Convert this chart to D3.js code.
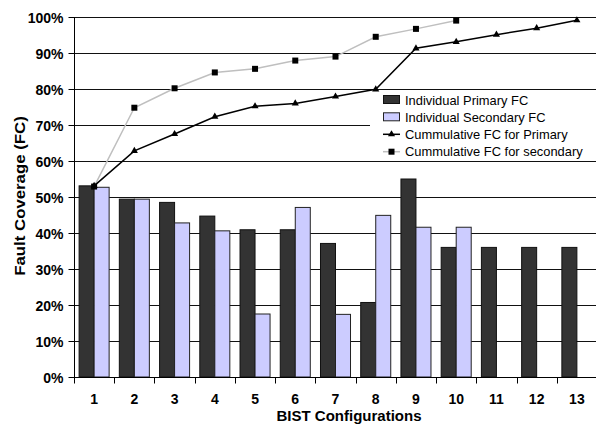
<!DOCTYPE html>
<html><head><meta charset="utf-8">
<script src="https://cdn.jsdelivr.net/npm/d3@7"></script>
<style>body{margin:0;background:#fff}svg{display:block;font-family:"Liberation Sans",Arial,sans-serif}</style>
</head><body><svg id="c" width="596" height="426"></svg>
<script>
const categories = ["1","2","3","4","5","6","7","8","9","10","11","12","13"];
const primaryFC = [53.1,49.4,48.5,44.7,40.9,40.9,37.1,20.7,55.0,36.0,36.0,36.0,36.0];
const secondaryFC = [52.7,49.4,42.8,40.6,17.5,47.1,17.4,44.9,41.6,41.6,null,null,null];
const cumPrimary = [53.1,62.8,67.5,72.3,75.2,76.0,77.9,79.9,91.3,93.1,95.1,96.9,99.1];
const cumSecondary = [52.9,74.8,80.2,84.6,85.6,87.9,89.0,94.5,96.7,99.0];
const yTicks = [0,10,20,30,40,50,60,70,80,90,100];
const legendLabels = ["Individual Primary FC","Individual Secondary FC","Cummulative FC for Primary","Cummulative FC for secondary"];

const svg = d3.select("#c");
const L = 74, R = 597, T = 17, B = 377;
const x0 = d3.scaleBand().domain(categories).range([L, R]).padding(0);
const x1 = d3.scaleBand().domain(["p","s"]).range([0, x0.bandwidth()]).paddingInner(0).paddingOuter(0.34);
const y = d3.scaleLinear().domain([0,100]).range([B, T]);

// gridlines
svg.append("g").selectAll("line").data(yTicks.filter(d=>d>0)).join("line")
  .attr("x1", L).attr("x2", R).attr("y1", d=>Math.round(y(d))+0.5).attr("y2", d=>Math.round(y(d))+0.5)
  .attr("stroke", "#111").attr("stroke-width", 1);

// bars
const g = svg.append("g");
categories.forEach((c,i)=>{
  g.append("rect").attr("x", x0(c)+x1("p")).attr("y", y(primaryFC[i]))
    .attr("width", x1.bandwidth()).attr("height", B - y(primaryFC[i]))
    .attr("fill", "#333333").attr("stroke", "#111").attr("stroke-width", 1);
  if (secondaryFC[i] != null) {
    g.append("rect").attr("x", x0(c)+x1("s")).attr("y", y(secondaryFC[i]))
      .attr("width", x1.bandwidth()).attr("height", B - y(secondaryFC[i]))
      .attr("fill", "#ccccff").attr("stroke", "#222").attr("stroke-width", 1);
  }
});

// axes
const yAxis = d3.axisLeft(y).tickValues(yTicks).tickFormat(d=>d+"%").tickSize(6).tickPadding(5);
const ya = svg.append("g").attr("transform", `translate(${L+0.5},0)`).call(yAxis);
ya.select(".domain").attr("stroke", "#000").attr("d", `M0,${T}V${B}`);
ya.selectAll(".tick line").attr("stroke", "#000");
ya.selectAll(".tick text").attr("font-size", 14).attr("font-weight", "bold").attr("fill", "#000")
  .attr("font-family", "'Liberation Sans',Arial,sans-serif").attr("dy","0.42em");

const xa = svg.append("g").attr("transform", `translate(0,${B+0.5})`);
xa.append("line").attr("x1", L).attr("x2", R).attr("stroke", "#000");
const bounds = categories.map(c=>x0(c)).concat([R]);
xa.selectAll("line.tk").data(bounds).join("line").attr("class","tk")
  .attr("x1", d=>Math.round(d)+0.5).attr("x2", d=>Math.round(d)+0.5).attr("y1",0).attr("y2",6).attr("stroke","#000");
xa.selectAll("text").data(categories).join("text")
  .attr("x", d=>x0(d)+x0.bandwidth()/2).attr("y", 26.5)
  .attr("text-anchor","middle").attr("font-size",14).attr("font-weight","bold").text(d=>d);

// lines
const line = d3.line().x((d,i)=>x0(categories[i])+x0.bandwidth()/2).y(d=>y(d));
svg.append("path").datum(cumSecondary).attr("d", line).attr("fill","none").attr("stroke","#bfbfbf").attr("stroke-width",1.5);
svg.append("path").datum(cumPrimary).attr("d", line).attr("fill","none").attr("stroke","#000").attr("stroke-width",1.5);
const tri = d3.symbol().type(d3.symbolTriangle).size(22);
svg.append("g").selectAll("path").data(cumPrimary).join("path")
  .attr("transform",(d,i)=>`translate(${x0(categories[i])+x0.bandwidth()/2},${y(d)})`).attr("d", tri()).attr("fill","#000");
svg.append("g").selectAll("rect").data(cumSecondary).join("rect")
  .attr("x",(d,i)=>x0(categories[i])+x0.bandwidth()/2-3).attr("y",d=>y(d)-3).attr("width",6).attr("height",6).attr("fill","#000");

// legend
const lg = svg.append("g");
lg.append("rect").attr("x",370).attr("y",92).attr("width",226).attr("height",67).attr("fill","#fff");
const rowY = [100,117.3,134.3,151.7];
legendLabels.forEach((t,i)=>{
  const yy = rowY[i];
  if (i===0) lg.append("rect").attr("x",383.5).attr("y",yy-4.5).attr("width",16).attr("height",8).attr("fill","#333").attr("stroke","#111");
  if (i===1) lg.append("rect").attr("x",383.5).attr("y",yy-4.5).attr("width",16).attr("height",8).attr("fill","#ccccff").attr("stroke","#222");
  if (i===2) { lg.append("line").attr("x1",383).attr("x2",400).attr("y1",yy).attr("y2",yy).attr("stroke","#000").attr("stroke-width",1.5);
    lg.append("path").attr("transform",`translate(391.5,${yy})`).attr("d",tri()).attr("fill","#000"); }
  if (i===3) { lg.append("line").attr("x1",383).attr("x2",400).attr("y1",yy).attr("y2",yy).attr("stroke","#bfbfbf").attr("stroke-width",1.5);
    lg.append("rect").attr("x",388.5).attr("y",yy-3).attr("width",6).attr("height",6).attr("fill","#000"); }
  lg.append("text").attr("x",405).attr("y",yy+4.5).attr("font-size",12.9).attr("fill","#000").text(t);
});

// titles
svg.append("text").attr("x",349).attr("y",421).attr("text-anchor","middle").attr("font-size",15).attr("font-weight","bold").text("BIST Configurations");
svg.append("text").attr("transform",`translate(25,196) rotate(-90) scale(1.2,1)`).attr("text-anchor","middle").attr("font-size",14).attr("font-weight","bold").text("Fault Coverage (FC)");
</script></body></html>
